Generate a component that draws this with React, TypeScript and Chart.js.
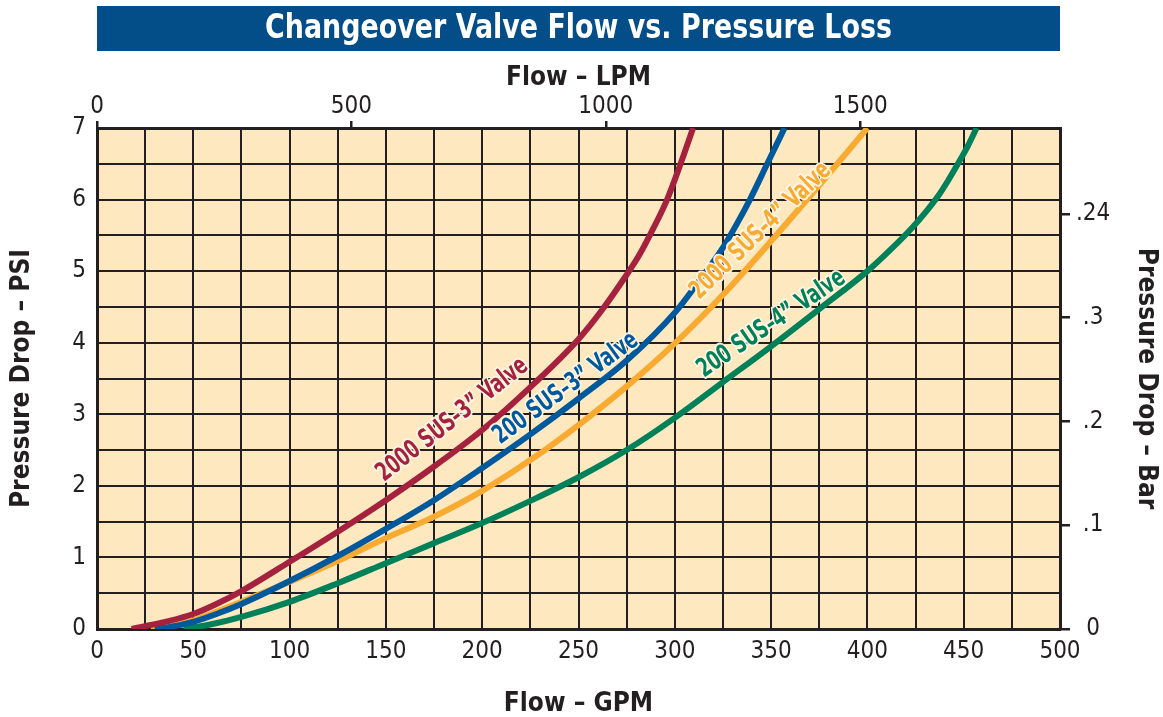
import React, { useEffect, useRef } from "react";
import { Chart, registerables } from "chart.js";

Chart.register(...registerables);

// ---------- text ----------
const TITLE = "Changeover Valve Flow vs. Pressure Loss";
const X_TITLE = "Flow \u2013 GPM";
const X2_TITLE = "Flow \u2013 LPM";
const Y_TITLE = "Pressure Drop \u2013 PSI";
const Y2_TITLE = "Pressure Drop \u2013 Bar";

// ---------- axes / ticks ----------
const gpmTicks = [0, 25, 50, 75, 100, 125, 150, 175, 200, 225, 250, 275, 300, 325, 350, 375, 400, 425, 450, 475, 500];
const gpmLabeled = [0, 50, 100, 150, 200, 250, 300, 350, 400, 450, 500];
const psiTicks = [0, 0.5, 1, 1.5, 2, 2.5, 3, 3.5, 4, 4.5, 5, 5.5, 6, 6.5, 7];
const psiLabeled = [0, 1, 2, 3, 4, 5, 6, 7];
const lpmTicks = [0, 500, 1000, 1500];
const barTicks = [0, 0.1, 0.2, 0.3, 0.4];
const barTickLabels = ["0", ".1", ".2", ".3", ".24"];

const GPM_MAX = 500;
const PSI_MAX = 7;
const GPM_TO_LPM = 3.78541;
const PSI_TO_BAR = 0.0689476;

// ---------- series (GPM vs PSI) ----------
const red2000Sus3Gpm = [18, 25, 37, 50, 62, 75, 100, 125, 150, 175, 200, 225, 250, 262, 275, 281, 287, 296, 303, 309.5];
const red2000Sus3Psi = [0, 0.04, 0.11, 0.21, 0.35, 0.53, 0.94, 1.36, 1.8, 2.27, 2.78, 3.38, 4.05, 4.45, 4.95, 5.2, 5.5, 6.0, 6.5, 7.0];

const blue200Sus3Gpm = [30, 40, 50, 62, 75, 100, 125, 150, 175, 200, 225, 250, 275, 300, 312, 325, 332, 339, 348, 357];
const blue200Sus3Psi = [0, 0.04, 0.1, 0.21, 0.35, 0.67, 1.02, 1.4, 1.8, 2.25, 2.72, 3.22, 3.75, 4.42, 4.84, 5.33, 5.65, 6.0, 6.5, 7.0];

const orange2000Sus4Gpm = [28, 40, 50, 62, 75, 100, 125, 150, 175, 200, 225, 250, 275, 300, 325, 350, 375, 400];
const orange2000Sus4Psi = [0, 0.05, 0.12, 0.24, 0.38, 0.66, 0.95, 1.27, 1.57, 1.93, 2.36, 2.85, 3.39, 3.99, 4.67, 5.42, 6.2, 7.0];

const green200Sus4Gpm = [45, 50, 60, 75, 100, 125, 150, 175, 200, 225, 250, 275, 300, 325, 350, 375, 400, 412, 423, 431, 437, 442, 447, 452, 456.7];
const green200Sus4Psi = [0, 0.02, 0.07, 0.17, 0.38, 0.64, 0.92, 1.2, 1.48, 1.79, 2.12, 2.5, 2.95, 3.45, 3.95, 4.47, 5.0, 5.3, 5.6, 5.85, 6.06, 6.27, 6.5, 6.74, 7.0];

const seriesNames = ["2000 SUS\u20133\u201D Valve", "200 SUS\u20133\u201D Valve", "2000 SUS\u20134\u201D Valve", "200 SUS\u20134\u201D Valve"];

// ---------- style ----------
const FONT = '"DejaVu Sans Condensed", "DejaVu Sans", sans-serif';
const INK = "#231f20";
const PLOT_BG = "#fee8c0";
const TITLE_BG = "#034e89";
const RED = "#a5223f";
const BLUE = "#00599d";
const ORANGE = "#f9aa30";
const GREEN = "#00815a";

// curve label annotations (anchored in data units, angle in degrees)
const curveLabels = [
  { text: seriesNames[0], color: RED, gpm: 184.6, psi: 2.92, angle: 38 },
  { text: seriesNames[1], color: BLUE, gpm: 243.5, psi: 3.36, angle: 36 },
  { text: seriesNames[2], color: ORANGE, gpm: 344.7, psi: 5.56, angle: 44 },
  { text: seriesNames[3], color: GREEN, gpm: 350.2, psi: 4.26, angle: 34 },
];

const toPoints = (xs: number[], ys: number[]) => xs.map((x, i) => ({ x, y: ys[i] }));

const backgroundPlugin = {
  id: "bgAndTitle",
  beforeDraw(chart: any) {
    const { ctx, chartArea } = chart;
    ctx.save();
    ctx.fillStyle = "#ffffff";
    ctx.fillRect(0, 0, chart.width, chart.height);
    ctx.fillStyle = PLOT_BG;
    ctx.fillRect(chartArea.left, chartArea.top, chartArea.right - chartArea.left, chartArea.bottom - chartArea.top);
    // title bar
    ctx.fillStyle = TITLE_BG;
    ctx.fillRect(chartArea.left, 6, chartArea.right - chartArea.left, 45);
    ctx.fillStyle = "#ffffff";
    ctx.font = `bold 34px ${FONT}`;
    ctx.textAlign = "center";
    ctx.textBaseline = "middle";
    ctx.translate((chartArea.left + chartArea.right) / 2, 29);
    ctx.scale(0.88, 1);
    ctx.fillText(TITLE, 0, 0);
    ctx.restore();
  },
};

const curveLabelPlugin = {
  id: "curveLabels",
  afterDatasetsDraw(chart: any) {
    const { ctx } = chart;
    const xs = chart.scales.x;
    const ys = chart.scales.y;
    ctx.save();
    ctx.font = `bold 26px ${FONT}`;
    ctx.textAlign = "center";
    ctx.textBaseline = "middle";
    ctx.lineJoin = "round";
    for (const l of curveLabels) {
      const px = xs.getPixelForValue(l.gpm);
      const py = ys.getPixelForValue(l.psi);
      ctx.save();
      ctx.translate(px, py);
      ctx.rotate((-l.angle * Math.PI) / 180);
      ctx.scale(0.74, 1);
      ctx.lineWidth = 4;
      ctx.strokeStyle = "rgba(255,247,230,0.95)";
      ctx.strokeText(l.text, 0, 0);
      ctx.fillStyle = l.color;
      ctx.fillText(l.text, 0, 0);
      ctx.restore();
    }
    ctx.restore();
  },
};

const setTicks = (values: number[]) => (scale: any) => {
  scale.ticks = values.map((v) => ({ value: v }));
};

export default function App() {
  const canvasRef = useRef<HTMLCanvasElement | null>(null);

  useEffect(() => {
    const canvas = canvasRef.current;
    if (!canvas) return;
    const mk = (label: string, xs: number[], ys: number[], color: string) => ({
      label,
      data: toPoints(xs, ys),
      borderColor: color,
      backgroundColor: color,
      borderWidth: 6,
      pointRadius: 0,
      cubicInterpolationMode: "monotone" as const,
      fill: false,
      clip: 0,
      xAxisID: "x",
      yAxisID: "y",
    });

    const tickFont = { family: FONT, size: 24, lineHeight: 1 };
    const titleFont = { family: FONT, size: 26, weight: "bold" as const, lineHeight: 1 };

    const chart = new Chart(canvas, {
      type: "line",
      data: {
        datasets: [
          mk(seriesNames[0], red2000Sus3Gpm, red2000Sus3Psi, RED),
          mk(seriesNames[1], blue200Sus3Gpm, blue200Sus3Psi, BLUE),
          mk(seriesNames[2], orange2000Sus4Gpm, orange2000Sus4Psi, ORANGE),
          mk(seriesNames[3], green200Sus4Gpm, green200Sus4Psi, GREEN),
        ],
      },
      options: {
        animation: false,
        responsive: false,
        devicePixelRatio: 1,
        events: [],
        layout: { padding: { top: 57, left: 0, right: 0, bottom: 0 } },
        plugins: {
          legend: { display: false },
          tooltip: { enabled: false },
          title: { display: false },
        },
        scales: {
          x: {
            type: "linear",
            position: "bottom",
            min: 0,
            max: GPM_MAX,
            afterBuildTicks: setTicks(gpmTicks),
            afterFit: (s: any) => {
              s.height = 88;
            },
            ticks: {
              autoSkip: false,
              maxRotation: 0,
              padding: 11,
              color: INK,
              font: tickFont,
              callback: (v: any) => (gpmLabeled.includes(Number(v)) ? String(v) : ""),
            },
            grid: { color: INK, lineWidth: 2, drawTicks: false },
            border: { display: true, color: INK, width: 3 },
            title: { display: true, text: X_TITLE, color: INK, font: titleFont, padding: { top: 0, bottom: 0 } },
          },
          x2: {
            type: "linear",
            position: "top",
            min: 0,
            max: GPM_MAX * GPM_TO_LPM,
            afterBuildTicks: setTicks(lpmTicks),
            afterFit: (s: any) => {
              s.height = 71;
            },
            ticks: {
              autoSkip: false,
              maxRotation: 0,
              padding: 2,
              color: INK,
              font: tickFont,
              callback: (v: any) => String(v),
            },
            grid: { color: INK, lineWidth: 2.5, drawOnChartArea: false, drawTicks: true, tickLength: 7 },
            border: { display: true, color: INK, width: 3 },
            title: { display: true, text: X2_TITLE, color: INK, font: titleFont, padding: { top: 8, bottom: 0 } },
          },
          y: {
            type: "linear",
            position: "left",
            min: 0,
            max: PSI_MAX,
            afterBuildTicks: setTicks(psiTicks),
            afterFit: (s: any) => {
              s.width = 97;
            },
            ticks: {
              autoSkip: false,
              padding: 11,
              color: INK,
              font: tickFont,
              callback: (v: any) => (psiLabeled.includes(Number(v)) ? String(v) : ""),
            },
            grid: { color: INK, lineWidth: 2, drawTicks: false },
            border: { display: true, color: INK, width: 3 },
            title: { display: true, text: Y_TITLE, color: INK, font: titleFont, padding: { top: 9, bottom: 0 } },
          },
          y2: {
            type: "linear",
            position: "right",
            min: 0,
            max: PSI_MAX * PSI_TO_BAR,
            afterBuildTicks: setTicks(barTicks),
            afterFit: (s: any) => {
              s.width = 103;
            },
            ticks: {
              autoSkip: false,
              padding: 6,
              crossAlign: "center",
              color: INK,
              font: tickFont,
              callback: (_v: any, i: number) => barTickLabels[i],
            },
            grid: { color: INK, lineWidth: 2.5, drawOnChartArea: false, drawTicks: true, tickLength: 10 },
            border: { display: true, color: INK, width: 3 },
            title: { display: true, text: Y2_TITLE, color: INK, font: titleFont, padding: { top: 4, bottom: 0 } },
          },
        },
      } as any,
      plugins: [backgroundPlugin, curveLabelPlugin],
    });
    return () => chart.destroy();
  }, []);

  return (
    <div style={{ position: "fixed", left: 0, top: 0, width: 1163, height: 717, background: "#fff" }}>
      <canvas ref={canvasRef} width={1163} height={717} style={{ display: "block", width: 1163, height: 717 }} />
    </div>
  );
}
